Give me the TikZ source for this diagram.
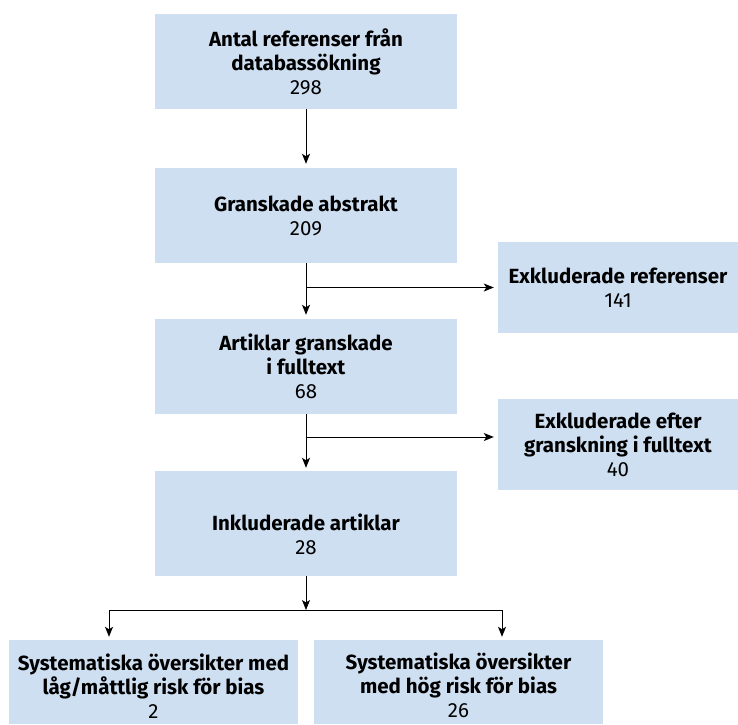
\documentclass[tikz,border=0pt]{standalone}
\usepackage{fontspec}
\setmainfont{Fira Sans}
\usetikzlibrary{arrows.meta}
\definecolor{boxblue}{RGB}{207,223,242}
\tikzset{
	box/.style={fill=boxblue, align=center, inner sep=0pt, font=\fontsize{20.5}{24}\selectfont},
	midbox/.style={box, minimum width=302pt, minimum height=95pt},
	sidebox/.style={box, minimum width=240pt, minimum height=91pt},
	endbox/.style={box, minimum width=289pt, minimum height=84pt},
	pil/.style={-{Stealth[length=10pt,width=8pt,inset=2.5pt]}, line width=1pt}
}
\begin{document}
\begin{tikzpicture}[x=1pt,y=-1pt]
		% Ram
		\useasboundingbox (0,0) rectangle (738,724);
		% Rutor i mitten
		\node[midbox] (antal) at (306,61.5) {\textbf{Antal referenser från}\\\textbf{databassökning}\\298};
		\node[midbox] (abstrakt) at (306,215.5) {\textbf{Granskade abstrakt}\\209};
		\node[midbox] (fulltext) at (306,366.5) {\textbf{Artiklar granskade}\\\textbf{i fulltext}\\68};
		\node[midbox, minimum height=105pt, text height=63pt] (inkl) at (306,523.5) {\textbf{Inkluderade artiklar}\\28};
		% Exkluderade
		\node[sidebox] (exkl1) at (618,287.5) {\textbf{Exkluderade referenser}\\141};
		\node[sidebox] (exkl2) at (618,444.5) {\textbf{Exkluderade efter}\\\textbf{granskning i fulltext}\\40};
		% Resultat
		\node[endbox, text height=72pt] (lag) at (153.5,682) {\textbf{Systematiska översikter med}\\\textbf{låg/måttlig risk för bias}\\2};
		\node[endbox, text height=72pt] (hog) at (458.5,682) {\textbf{Systematiska översikter}\\\textbf{med hög risk för bias}\\26};
		% Pilar
		\draw[pil, shorten >=4pt] (antal) -- (abstrakt);
		\draw[pil, shorten >=4pt] (abstrakt) -- (fulltext);
		\draw[pil, shorten >=4pt] (abstrakt.south |- exkl1.west) -- (exkl1.west);
		\coordinate (gren) at (306,437);
		\draw[pil, shorten >=3pt] (fulltext) -- (inkl);
		\draw[pil, shorten >=4pt] (gren) -- (gren -| exkl2.west);
		% Delning
		\coordinate (delning) at (306,610);
		\coordinate (vdelning) at (109,610);
		\coordinate (hdelning) at (502,610);
		\draw[pil] (inkl) -- (delning);
		\draw[line width=1pt] (vdelning) -- (hdelning);
		\draw[pil, shorten >=3pt] (vdelning) -- (vdelning |- lag.north);
		\draw[pil, shorten >=3pt] (hdelning) -- (hdelning |- hog.north);
	\end{tikzpicture}
\end{document}
